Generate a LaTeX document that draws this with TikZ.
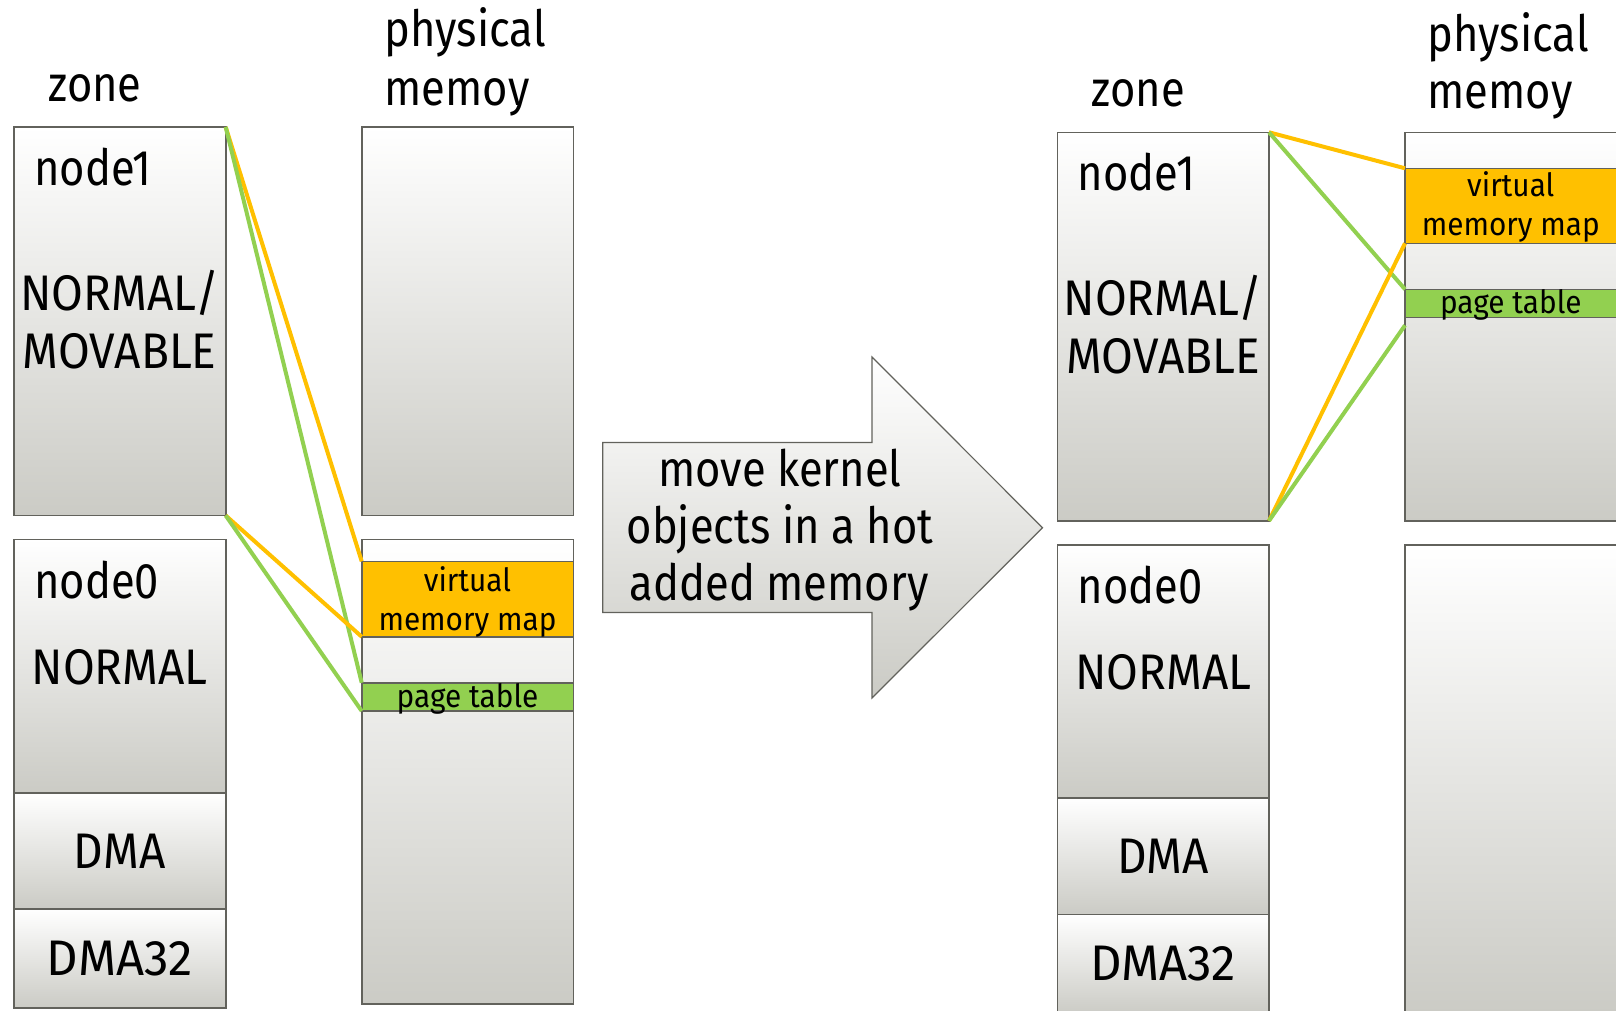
\documentclass[tikz,border=0pt]{standalone}
\usepackage{fontspec}
\setmainfont{Fira Sans}[FakeStretch=0.87]
\newfontfamily\capsfam{Fira Sans}[FakeStretch=0.92]
\newfontfamily\digitcapsfam{Fira Sans}[FakeStretch=0.98]
\newfontfamily\bandfam{Fira Sans}[FakeStretch=0.93]
\usetikzlibrary{calc}

\definecolor{edge}{RGB}{98,98,92}
\definecolor{shadegray}{RGB}{203,203,197}
\definecolor{vmmorange}{RGB}{255,192,0}
\definecolor{ptgreen}{RGB}{146,208,80}
\newcommand\labelfont{\fontsize{50}{57}\selectfont}
\newcommand\capsfont{\capsfam\fontsize{50}{57}\selectfont}
\newcommand\digitfont{\digitcapsfam\fontsize{50}{57}\selectfont}
\newcommand\bandfont{\bandfam\fontsize{32}{38}\selectfont}

\begin{document}
\begin{tikzpicture}[x=1pt,y=-1pt,
  zbox/.style={draw=edge, line width=1.6pt, top color=white, bottom color=shadegray,
               inner sep=0pt, outer sep=0pt, anchor=north west},
  band/.style={draw=edge, line width=1.6pt, inner sep=0pt, outer sep=0pt, anchor=north west},
  lbl/.style={font=\labelfont, inner sep=0pt, anchor=base},
  lblw/.style={lbl, anchor=base west},
  caps/.style={font=\capsfont, inner sep=0pt, anchor=base},
  capsdigit/.style={font=\digitfont, inner sep=0pt, anchor=base},
  bandlbl/.style={font=\bandfont, inner sep=0pt, anchor=base},
  link/.style={line width=4pt},
]
\useasboundingbox (0,0) rectangle (1616,1010);

% ---------- before: zones (left column) ----------
\node[zbox, minimum width=212pt, minimum height=388.5pt] (n1L) at (13.7,127) {};
\node[zbox, minimum width=212pt, minimum height=253.2pt] (n0L) at (13.7,539.5) {};
\node[zbox, minimum width=212pt, minimum height=116.3pt] (dmaL) at (13.7,792.7) {};
\node[zbox, minimum width=212pt, minimum height=99pt] (dmatwoL) at (13.7,909) {};

% ---------- before: physical memory ----------
\node[zbox, minimum width=211.6pt, minimum height=388.5pt] (pmtL) at (361.7,127) {};
\node[zbox, minimum width=211.6pt, minimum height=464.7pt] (pmbL) at (361.7,539.3) {};
\node[band, fill=vmmorange, minimum width=211.6pt, minimum height=75.4pt] (vmmL) at (361.7,561.3) {};
\node[band, fill=ptgreen, minimum width=211.6pt, minimum height=28.3pt] (ptL) at (361.7,682.7) {};

% ---------- after: zones ----------
\node[zbox, minimum width=211.7pt, minimum height=388.5pt] (n1R) at (1057.3,132.3) {};
\node[zbox, minimum width=211.7pt, minimum height=253pt] (n0R) at (1057.3,545) {};
\node[zbox, minimum width=211.7pt, minimum height=116.3pt] (dmaR) at (1057.3,798) {};
\node[zbox, minimum width=211.7pt, minimum height=100pt] (dmatwoR) at (1057.3,914.3) {};

% ---------- after: physical memory ----------
\node[zbox, minimum width=211.5pt, minimum height=388.5pt] (pmtR) at (1405,132.3) {};
\node[band, fill=vmmorange, minimum width=211.5pt, minimum height=75pt] (vmmR) at (1405,168.3) {};
\node[band, fill=ptgreen, minimum width=211.5pt, minimum height=28pt] (ptR) at (1405,289.3) {};
\node[zbox, minimum width=211.5pt, minimum height=468pt] (pmbR) at (1405,545) {};

% ---------- transition arrow ----------
\path[draw=edge, line width=1.2pt, top color=white, bottom color=shadegray]
  (602.7,442.5) -- (872,442.5) -- (872,357) -- (1042.5,527.7)
  -- (872,698) -- (872,612.5) -- (602.7,612.5) -- cycle;
\node[lbl] (mv1) at (780,486) {move kernel};
\node[lbl] (mv2) at (780,543.3) {objects in a hot};
\node[lbl] (mv3) at (779,600.7) {added memory};

% ---------- links from node1 to its kernel objects ----------
\draw[link, vmmorange] (n1L.north east) -- (vmmL.north west);
\draw[link, ptgreen]   (n1L.north east) -- (ptL.north west);
\draw[link, vmmorange] (n1L.south east) -- (vmmL.south west);
\draw[link, ptgreen]   (n1L.south east) -- (ptL.south west);

\coordinate (ptRlow) at ($(ptR.south west)+(0,8)$);
\draw[link, vmmorange] (n1R.north east) -- (vmmR.north west);
\draw[link, ptgreen]   (n1R.north east) -- (ptR.north west);
\draw[link, vmmorange] (n1R.south east) -- (vmmR.south west);
\draw[link, ptgreen]   (n1R.south east) -- (ptRlow);

% ---------- labels: before ----------
\node[lbl] (zoneL) at (95,101.7) {zone};
\node[lblw] (physL) at (384.5,46.7) {physical};
\node[lblw] (memL) at (384.5,105) {memoy};
\node[lblw] (node1L) at (34,185) {node1};
\node[caps] (nmL) at (119.7,310) {NORMAL/};
\node[caps] (mvL) at (119.7,368) {MOVABLE};
\node[lblw] (node0L) at (34,598) {node0};
\node[caps] (normL) at (119.7,684) {NORMAL};
\node[caps] (dmatL) at (119.7,868.3) {DMA};
\node[capsdigit] (dmaxL) at (119.7,975) {DMA32};
\node[bandlbl] (vtL) at (467.5,591.7) {virtual};
\node[bandlbl] (mmL) at (467.5,630) {memory map};
\node[bandlbl] (ptxL) at (467.5,707.3) {page table};

% ---------- labels: after ----------
\node[lbl] (zoneR) at (1138,106.7) {zone};
\node[lblw] (physR) at (1427.5,51.7) {physical};
\node[lblw] (memR) at (1427.5,108.3) {memoy};
\node[lblw] (node1R) at (1077.6,190.3) {node1};
\node[caps] (nmR) at (1163.2,315.3) {NORMAL/};
\node[caps] (mvR) at (1163.2,373.3) {MOVABLE};
\node[lblw] (node0R) at (1077.6,603.3) {node0};
\node[caps] (normR) at (1163.2,689.3) {NORMAL};
\node[caps] (dmatR) at (1163.2,873.6) {DMA};
\node[capsdigit] (dmaxR) at (1163.2,980.3) {DMA32};
\node[bandlbl] (vtR) at (1510.8,196.7) {virtual};
\node[bandlbl] (mmR) at (1510.8,235) {memory map};
\node[bandlbl] (ptxR) at (1510.8,313.3) {page table};
\end{tikzpicture}
\end{document}
